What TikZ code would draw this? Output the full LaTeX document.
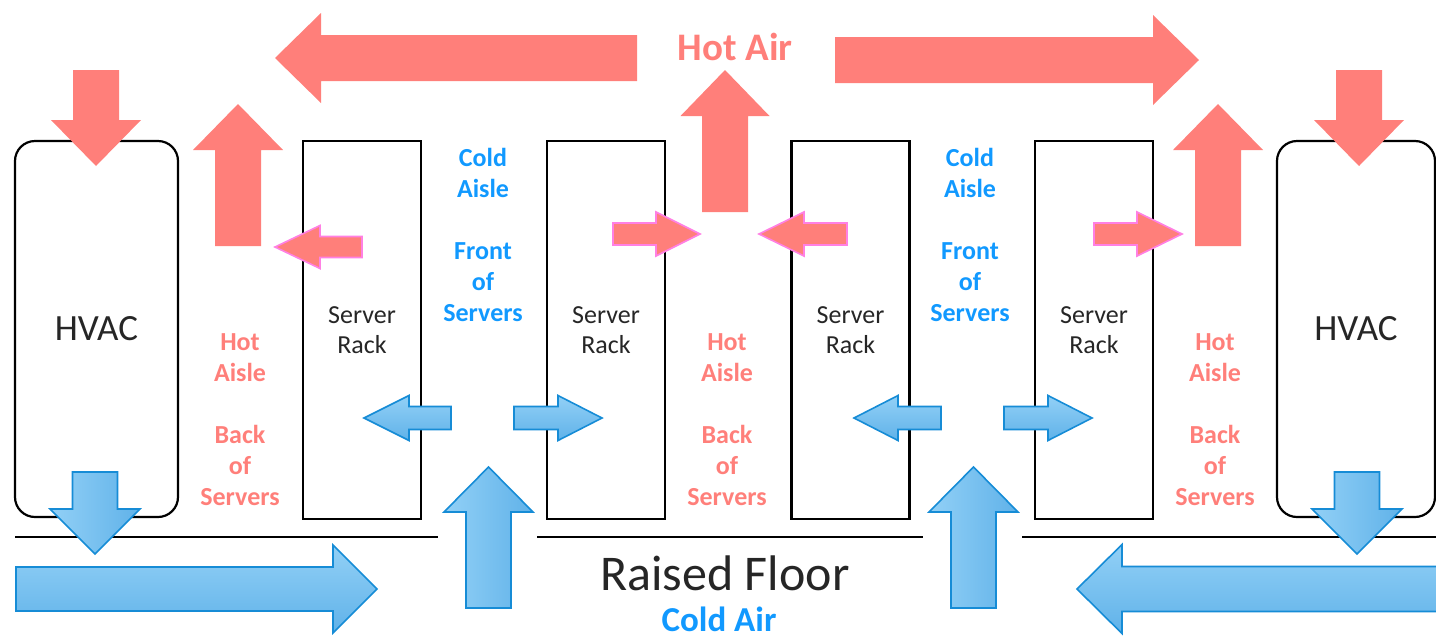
\documentclass[tikz,border=0pt]{standalone}
\usepackage{fontspec}
\setmainfont{Carlito}
\usepackage{tikz}
\definecolor{hotair}{RGB}{255,127,122}
\definecolor{hotedge}{RGB}{255,128,228}
\definecolor{coldtext}{RGB}{17,153,255}
\definecolor{bluehi}{RGB}{146,208,246}
\definecolor{bluelo}{RGB}{96,178,233}
\definecolor{bluedge}{RGB}{22,140,214}
% block arrows: style, y, x tail, x head base, x tip, shaft half, head half
\newcommand{\airh}[7]{
	\path[#1] (#3,#2-#6) -- (#4,#2-#6) -- (#4,#2-#7) -- (#5,#2) -- (#4,#2+#7) -- (#4,#2+#6) -- (#3,#2+#6) -- cycle;
}
% style, x, y tail, y head base, y tip, shaft half, head half
\newcommand{\airv}[7]{
	\path[#1] (#2-#6,#3) -- (#2-#6,#4) -- (#2-#7,#4) -- (#2,#5) -- (#2+#7,#4) -- (#2+#6,#4) -- (#2+#6,#3) -- cycle;
}
\tikzset{
	rack/.style={draw,line width=1.1pt,minimum width=59pt,minimum height=189pt,inner sep=0pt,align=center,text=black!85,font=\fontsize{13}{15}\selectfont},
	hvac/.style={draw,line width=1.1pt,rounded corners=10pt,minimum height=188pt,inner sep=0pt,text=black!85,font=\fontsize{18.5}{20}\selectfont},
	coldlabel/.style={align=center,text=coldtext,font=\bfseries\fontsize{13}{15.5}\selectfont},
	hotlabel/.style={align=center,text=hotair,font=\bfseries\fontsize{13}{15.5}\selectfont},
	hot/.style={fill=hotair},
	hotsmall/.style={fill=hotair,draw=hotedge,line width=0.8pt},
	coldh/.style={top color=bluehi,bottom color=bluelo,draw=bluedge,line width=0.8pt},
	coldv/.style={left color=bluehi,right color=bluelo,draw=bluedge,line width=0.8pt}
}
\begin{document}
\begin{tikzpicture}[x=0.5pt,y=-0.5pt]
	\useasboundingbox (0,0) rectangle (1436,638);
	% units and racks
	\node[hvac,minimum width=81.5pt] (hvacL) at (96.5,329) {HVAC};
	\node[hvac,minimum width=79pt] (hvacR) at (1356,329) {HVAC};
	\foreach \x/\n in {362/1,606/2,850.5/3,1094/4}{
		\node[rack] (rack\n) at (\x,330) {Server\\Rack};
	}
	\foreach \x/\n in {483/1,970/2}{
		\node[coldlabel] (cold\n) at (\x,234.5) {Cold\\Aisle\\[15.5pt]Front\\of\\Servers};
	}
	\foreach \x/\n in {240/1,727/2,1215/3}{
		\node[hotlabel] (hot\n) at (\x,419.5) {Hot\\Aisle\\[15.5pt]Back\\of\\Servers};
	}
	% floor
	\draw[line width=0.8pt] (15,537) -- (438,537);
	\draw[line width=0.8pt] (537,537) -- (923,537);
	\draw[line width=0.8pt] (1022,537) -- (1436,537);
	\node[inner sep=0pt,text=black!85,font=\fontsize{25}{27}\selectfont] (floor) at (725,573) {Raised Floor};
	\node[inner sep=0pt,text=coldtext,font=\bfseries\fontsize{17.5}{19}\selectfont] (coldair) at (719,619) {Cold Air};
	\node[text=hotair,font=\bfseries\fontsize{19.5}{21}\selectfont] (hotair) at (735,47) {Hot Air};
	% hot air
	\airh{hot}{58}{637}{321}{275}{23}{45}
	\airh{hot}{60}{835}{1153}{1199}{23}{45}
	\foreach \x in {238,1218}{
		\airv{hot}{\x}{246}{150}{104}{23}{45}
	}
	\airv{hot}{725}{212}{116}{70}{23}{44.5}
	\foreach \x in {96,1359}{
		\airv{hot}{\x}{70}{120}{166}{23}{45}
	}
	\airh{hotsmall}{247}{362}{320}{275}{10.5}{21.5}
	\foreach \tl/\hb/\tp in {613/656/700,847/804/759,1094/1137/1182}{
		\airh{hotsmall}{234}{\tl}{\hb}{\tp}{11}{22}
	}
	% cold air
	\foreach \x in {95,1357}{
		\airv{coldv}{\x}{472}{509}{554}{22.5}{45}
	}
	\airh{coldh}{589}{16}{333}{377}{22}{44}
	\airh{coldh}{589}{1450}{1122}{1077}{22.5}{44.5}
	\foreach \x in {488.5,973.5}{
		\airv{coldv}{\x}{608}{512}{467}{22.5}{44.5}
	}
	\foreach \tl/\hb/\tp in {451/409/364,514/558/602,941/898/854,1004/1048/1092}{
		\airh{coldh}{418}{\tl}{\hb}{\tp}{11.5}{22.5}
	}
\end{tikzpicture}
\end{document}
